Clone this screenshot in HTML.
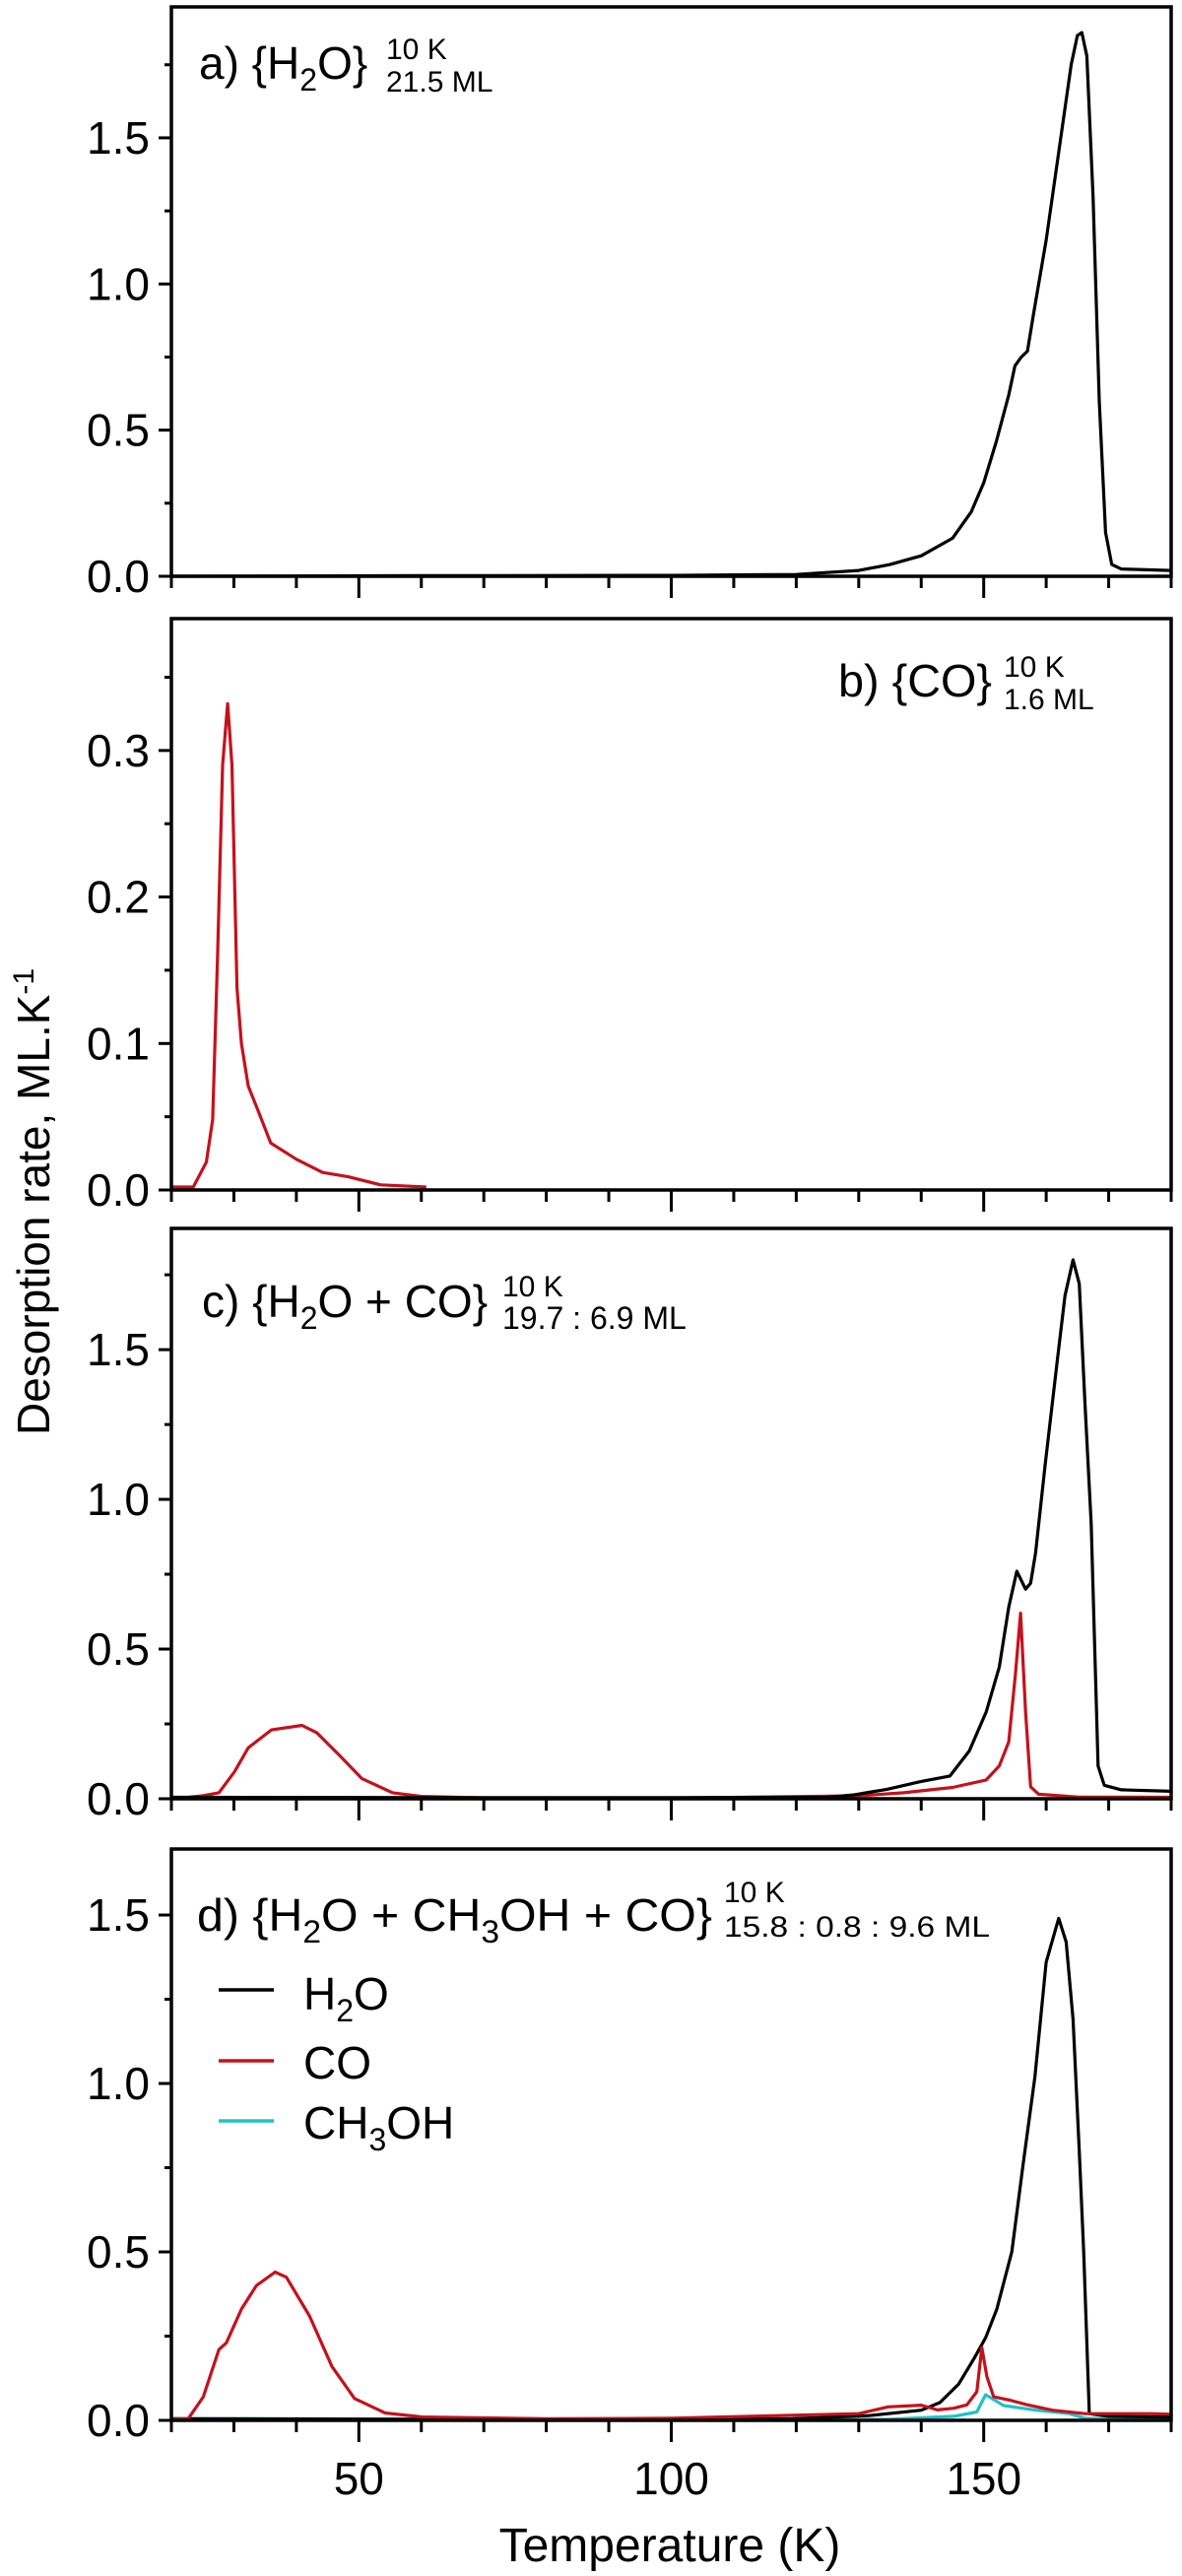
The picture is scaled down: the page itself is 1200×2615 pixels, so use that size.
<!DOCTYPE html>
<html><head><meta charset="utf-8"><style>
html,body{margin:0;padding:0;background:#fff;}
svg{display:block;font-family:"Liberation Sans",Arial,sans-serif;}
</style></head><body>
<svg id="chart" width="1200" height="2615" viewBox="0 0 1200 2615" xmlns="http://www.w3.org/2000/svg">
<g id="panels"></g>
<text transform="translate(50,1457) rotate(-90)" font-size="46" fill="#000">Desorption rate, ML.K<tspan dy="-16" font-size="30">-1</tspan></text>
<text x="680" y="2600" font-size="48" text-anchor="middle" fill="#000">Temperature (K)</text>

<text x="202" y="80" font-size="46">a) {H<tspan dy="12" font-size="32">2</tspan><tspan dy="-12">O}</tspan></text>
<text x="392" y="60" font-size="30">10 K</text>
<text x="392" y="93" font-size="30">21.5 ML</text>

<text x="851" y="707" font-size="46" textLength="156" lengthAdjust="spacingAndGlyphs">b) {CO}</text>
<text x="1019" y="687" font-size="30">10 K</text>
<text x="1019" y="720" font-size="30">1.6 ML</text>

<text x="205" y="1337" font-size="46">c) {H<tspan dy="12" font-size="32">2</tspan><tspan dy="-12">O + CO}</tspan></text>
<text x="510" y="1316" font-size="30">10 K</text>
<text x="510" y="1349" font-size="32">19.7 : 6.9 ML</text>

<text x="200" y="1960" font-size="46" textLength="523" lengthAdjust="spacingAndGlyphs">d) {H<tspan dy="12" font-size="32">2</tspan><tspan dy="-12">O + CH</tspan><tspan dy="12" font-size="32">3</tspan><tspan dy="-12">OH + CO}</tspan></text>
<text x="735" y="1931" font-size="30">10 K</text>
<text x="735" y="1966" font-size="30" textLength="270" lengthAdjust="spacingAndGlyphs">15.8 : 0.8 : 9.6  ML</text>

<g>
<line x1="222" y1="2020" x2="278" y2="2020" stroke="#000" stroke-width="3.5"/>
<text x="308" y="2040" font-size="46">H<tspan dy="12" font-size="32">2</tspan><tspan dy="-12">O</tspan></text>
<line x1="222" y1="2092" x2="278" y2="2092" stroke="#c4121c" stroke-width="3.5"/>
<text x="308" y="2110" font-size="46">CO</text>
<line x1="222" y1="2153" x2="278" y2="2153" stroke="#1ec3c9" stroke-width="3.5"/>
<text x="308" y="2171" font-size="46">CH<tspan dy="12" font-size="32">3</tspan><tspan dy="-12">OH</tspan></text>
</g>
</svg>
<script>
// ---- data (Temperature K, desorption rate ML/K) ----
const aH2O_T = [20,60,100,120,130,135,140,145,148,150,152,154,155,156,157,158,160,162,164,165,165.7,166.5,167.5,168.5,169.5,170.5,172,180];
const aH2O_V = [0,0.002,0.003,0.006,0.02,0.04,0.07,0.13,0.22,0.32,0.46,0.62,0.72,0.75,0.77,0.9,1.15,1.45,1.75,1.85,1.86,1.78,1.3,0.6,0.15,0.04,0.025,0.02];

const bCO_T = [20,23.5,25.6,26.6,27.4,28.2,29,29.7,30.5,31.2,32.3,33.8,35.9,40,44.2,48.3,53.5,60.8];
const bCO_V = [0.002,0.002,0.019,0.048,0.16,0.29,0.332,0.29,0.138,0.1,0.071,0.055,0.032,0.021,0.012,0.009,0.0035,0.002];

const cH2O_T = [20,60,100,125,129.3,134.6,139.8,144.6,147.7,150.4,152.5,154,155.3,156.7,157.5,158.3,159.8,161.7,163,164.3,165.3,166.2,167.2,168.3,169.3,172,180];
const cH2O_V = [0.005,0.004,0.004,0.005,0.013,0.032,0.057,0.076,0.16,0.29,0.44,0.64,0.76,0.70,0.72,0.82,1.11,1.45,1.68,1.80,1.72,1.32,0.92,0.11,0.045,0.03,0.025];
const cCO_T = [20,22.7,25,27.6,30.1,32.3,36,40.9,43.3,46.9,50.5,55.4,60,70,100,130,137.2,145,150.4,152.5,154,155.1,155.9,156.7,157.5,158.8,165,180];
const cCO_V = [0.003,0.005,0.01,0.02,0.09,0.17,0.23,0.245,0.22,0.145,0.067,0.02,0.008,0.003,0.002,0.01,0.02,0.038,0.063,0.11,0.19,0.42,0.62,0.29,0.04,0.015,0.006,0.005];

const dH2O_T = [20,60,100,119.4,131.6,140,143,146,148.5,150.3,152.1,154.5,156.3,158.2,160,162,163.2,164.3,165.3,166,166.9,170,180];
const dH2O_V = [0.005,0.003,0.003,0.005,0.014,0.03,0.053,0.108,0.185,0.245,0.33,0.50,0.76,1.02,1.36,1.49,1.42,1.19,0.8,0.5,0.02,0.012,0.01];
const dCO_T = [20,22.7,25.1,27.6,28.8,31.2,33.6,36.6,38.4,42.1,45.7,49.3,54.2,60.2,80,100,130,134.7,140,142.6,145.2,147.3,148.9,149.7,150.5,151.6,154.2,156.8,161,166.2,176.8,180];
const dCO_V = [0.003,0.005,0.07,0.21,0.23,0.33,0.40,0.44,0.425,0.31,0.16,0.065,0.022,0.01,0.005,0.006,0.02,0.04,0.045,0.031,0.036,0.046,0.085,0.216,0.13,0.07,0.06,0.047,0.03,0.02,0.02,0.018];
const dCH3OH_T = [20,60,100,120,134.7,145.2,148.9,150.3,153.2,158.4,163.7,166.2,170,180];
const dCH3OH_V = [0.005,0.004,0.003,0.003,0.003,0.012,0.025,0.076,0.044,0.03,0.02,0.006,0.004,0.004];

// tick values
const xMajorTicks = [50,100,150];
const xMinorTicks = [20,30,40,60,70,80,90,110,120,130,140,160,170,180];
const xTickLabels = ["50","100","150"];
const yMajorAC = [0,0.5,1.0,1.5];
const yMinorAC = [0.25,0.75,1.25,1.75];
const yLabelsAC = ["0.0","0.5","1.0","1.5"];
const yMajorB = [0,0.1,0.2,0.3];
const yMinorB = [0.05,0.15,0.25,0.35];
const yLabelsB = ["0.0","0.1","0.2","0.3"];

// ---- layout ----
const X0 = 174, X1 = 1189, TMIN = 20, TMAX = 180;
function xs(t){ return X0 + (t - TMIN) / (TMAX - TMIN) * (X1 - X0); }
const panels = [
  {id:'a', top:7,    bottom:585,  ymax:1.948, maj:yMajorAC, min:yMinorAC, lab:yLabelsAC,
   series:[{n:'h2o', T:aH2O_T, V:aH2O_V, c:'#000'}]},
  {id:'b', top:628,  bottom:1208, ymax:0.39,  maj:yMajorB,  min:yMinorB,  lab:yLabelsB,
   series:[{n:'co', T:bCO_T, V:bCO_V, c:'#c4121c'}]},
  {id:'c', top:1247, bottom:1826, ymax:1.905, maj:yMajorAC, min:yMinorAC, lab:yLabelsAC,
   series:[{n:'co', T:cCO_T, V:cCO_V, c:'#c4121c'},{n:'h2o', T:cH2O_T, V:cH2O_V, c:'#000'}]},
  {id:'d', top:1877, bottom:2457, ymax:1.696, maj:yMajorAC, min:yMinorAC, lab:yLabelsAC, xlabels:true,
   series:[{n:'ch3oh', T:dCH3OH_T, V:dCH3OH_V, c:'#1ec3c9'},{n:'h2o', T:dH2O_T, V:dH2O_V, c:'#000'},{n:'co', T:dCO_T, V:dCO_V, c:'#c4121c'}]}
];
const NS = 'http://www.w3.org/2000/svg';
const root = document.getElementById('panels');
function mk(tag, attrs, parent){
  const e = document.createElementNS(NS, tag);
  for (const k in attrs) e.setAttribute(k, attrs[k]);
  parent.appendChild(e);
  return e;
}
panels.forEach(p => {
  const ys = v => p.bottom - v / p.ymax * (p.bottom - p.top);
  const g = mk('g', {}, root);
  
  
  p.series.forEach(s => {
    let d = '';
    s.T.forEach((t, i) => { d += (i ? 'L' : 'M') + xs(t).toFixed(1) + ',' + ys(Math.min(s.V[i], p.ymax)).toFixed(1); });
    const path = mk('path', {d:d, fill:'none', stroke:s.c, 'stroke-width':3.2, 'stroke-linejoin':'round'}, g);
    
    
  });
  const frame = mk('rect', {x:X0, y:p.top, width:X1 - X0, height:p.bottom - p.top, fill:'none', stroke:'#000', 'stroke-width':3.5}, g);
  
  
  const axes = mk('g', {stroke:'#000', 'stroke-width':3}, g);
  
  
  xMajorTicks.forEach(t => mk('line', {x1:xs(t), x2:xs(t), y1:p.bottom, y2:p.bottom + 22}, axes));
  xMinorTicks.forEach(t => mk('line', {x1:xs(t), x2:xs(t), y1:p.bottom, y2:p.bottom + 12}, axes));
  p.maj.forEach(v => mk('line', {x1:X0 - 13, x2:X0, y1:ys(v), y2:ys(v)}, axes));
  p.min.forEach(v => { if (v < p.ymax) mk('line', {x1:X0 - 7, x2:X0, y1:ys(v), y2:ys(v)}, axes); });
  p.maj.forEach((v, i) => {
    const t = mk('text', {x:152, y:ys(v) + 16, 'font-size':46, 'text-anchor':'end'}, g);
    
    
    t.textContent = p.lab[i];
  });
  if (p.xlabels) {
    xMajorTicks.forEach((tv, i) => {
      const t = mk('text', {x:xs(tv), y:2532, 'font-size':46, 'text-anchor':'middle'}, g);
      
      
      t.textContent = xTickLabels[i];
    });
  }
});
</script>
</body></html>
